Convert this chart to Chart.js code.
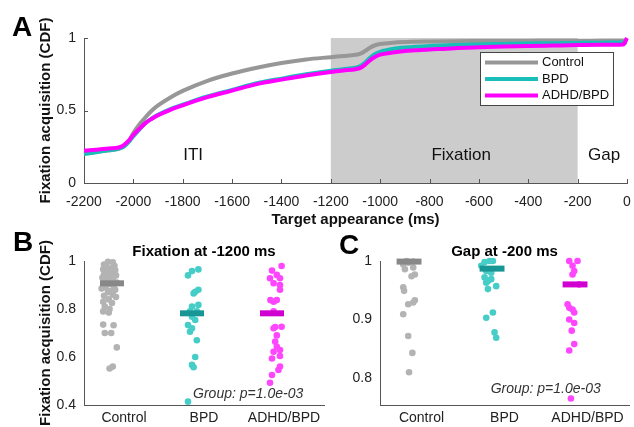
<!DOCTYPE html>
<html>
<head>
<meta charset="utf-8">
<script src="https://cdn.jsdelivr.net/npm/chart.js@4.4.0/dist/chart.umd.min.js"></script>
<style>
  html, body { margin: 0; padding: 0; background: #fff; overflow: hidden; }
  #fig { position: relative; width: 634px; height: 427px; overflow: hidden; font-family: "Liberation Sans", Arial, sans-serif; }
  .panel { position: absolute; }
  .letter { position: absolute; font-weight: bold; font-size: 28px; line-height: 28px; color: #000; }
</style>
</head>
<body>
<div id="fig">
  <div class="panel" style="left:0;top:0;width:634px;height:232px"><canvas id="cdf"></canvas></div>
  <div class="panel" style="left:0;top:230px;width:334px;height:197px"><canvas id="fixB"></canvas></div>
  <div class="panel" style="left:330px;top:230px;width:304px;height:197px"><canvas id="gapC"></canvas></div>
  <div class="letter" style="left:12px;top:13px">A</div>
  <div class="letter" style="left:13px;top:228px">B</div>
  <div class="letter" style="left:339px;top:231px">C</div>
</div>
<script>
const groupNames = ['Control', 'BPD', 'ADHD/BPD'];

// panel A: cumulative fixation acquisition vs time
const timeMs = [-2200, -2150, -2100, -2060, -2040, -2020, -2000, -1975, -1950, -1925, -1900, -1850, -1800,
  -1700, -1600, -1500, -1400, -1300, -1200, -1150, -1100, -1080, -1060, -1040, -1020, -1000, -950, -900,
  -800, -700, -600, -500, -400, -300, -200, -100, -15, 0];
const controlCdf = [0.205, 0.215, 0.225, 0.235, 0.25, 0.285, 0.345, 0.405, 0.455, 0.5, 0.535, 0.59, 0.635,
  0.705, 0.755, 0.795, 0.828, 0.852, 0.868, 0.876, 0.884, 0.892, 0.912, 0.935, 0.95, 0.958, 0.967, 0.972,
  0.976, 0.978, 0.979, 0.98, 0.98, 0.981, 0.981, 0.982, 0.982, 0.984];
const bpdCdf = [0.2, 0.212, 0.225, 0.237, 0.25, 0.28, 0.322, 0.37, 0.415, 0.445, 0.47, 0.51, 0.54,
  0.597, 0.642, 0.688, 0.72, 0.75, 0.775, 0.785, 0.795, 0.806, 0.832, 0.866, 0.89, 0.905, 0.924, 0.934,
  0.945, 0.951, 0.956, 0.959, 0.962, 0.964, 0.966, 0.968, 0.969, 0.971];
const adhdCdf = [0.222, 0.23, 0.238, 0.245, 0.26, 0.29, 0.332, 0.375, 0.415, 0.443, 0.467, 0.505, 0.536,
  0.592, 0.637, 0.682, 0.713, 0.742, 0.766, 0.776, 0.785, 0.794, 0.818, 0.848, 0.87, 0.885, 0.9, 0.91,
  0.92, 0.93, 0.936, 0.941, 0.945, 0.948, 0.951, 0.953, 0.955, 1.0];
const xTicksA = [-2200, -2000, -1800, -1600, -1400, -1200, -1000, -800, -600, -400, -200, 0];
const yTicksA = [0, 0.5, 1];
const phaseEdges = [-2200, -1200, -200, 0];
const phaseNames = ['ITI', 'Fixation', 'Gap'];
const phaseLabelX = [-1758, -672, -93];
const phaseLabelY = 0.19;

// panel B: fixation at -1200 ms
const fixControl = [0.997, 0.995, 0.985, 0.98, 0.975, 0.97, 0.965, 0.962, 0.955, 0.95, 0.945, 0.94, 0.935,
  0.93, 0.925, 0.92, 0.912, 0.91, 0.905, 0.895, 0.89, 0.885, 0.88, 0.875, 0.87, 0.86, 0.855, 0.85, 0.84,
  0.83, 0.825, 0.81, 0.80, 0.79, 0.785, 0.735, 0.732, 0.70, 0.70, 0.64, 0.56, 0.552];
const fixControlJit = [-0.20, -0.14, -0.25, -0.12, -0.22, -0.16, -0.26, -0.11, -0.20, -0.15, -0.25, -0.10, -0.19,
  -0.27, -0.14, -0.21, -0.25, -0.09, -0.18, -0.13, -0.23, -0.28, -0.11, -0.18, -0.20, -0.14, -0.25, -0.10, -0.19,
  -0.26, -0.15, -0.24, -0.18, -0.26, -0.19, -0.26, -0.13, -0.24, -0.16, -0.09, -0.14, -0.18];
const fixBpd = [0.965, 0.958, 0.94, 0.88, 0.872, 0.865, 0.817, 0.81, 0.79, 0.79, 0.768, 0.754, 0.733, 0.72,
  0.705, 0.67, 0.60, 0.567, 0.557, 0.414];
const fixBpdJit = [-0.07, -0.15, -0.20, -0.07, -0.11, -0.13, -0.07, -0.15, -0.175, -0.09, -0.15, -0.11, -0.2, -0.15,
  -0.175, -0.09, -0.11, -0.15, -0.13, -0.2];
const fixAdhd = [0.979, 0.96, 0.942, 0.928, 0.928, 0.907, 0.9, 0.88, 0.837, 0.837, 0.83, 0.79, 0.726, 0.725,
  0.72, 0.69, 0.664, 0.643, 0.629, 0.622, 0.604, 0.594, 0.56, 0.546, 0.525, 0.493];
const fixAdhdJit = [-0.03, -0.15, -0.09, -0.175, -0.05, -0.13, -0.05, -0.05, -0.17, -0.09, -0.13, -0.13, -0.03, -0.11,
  -0.13, -0.09, -0.11, -0.09, -0.05, -0.13, -0.05, -0.15, -0.05, -0.07, -0.15, -0.175];
const fixMeans = [0.907, 0.782, 0.782];
const yTicksB = [0.4, 0.6, 0.8, 1];

// panel C: gap at -200 ms
const gapControl = [1.0, 0.999, 0.997, 0.994, 0.989, 0.986, 0.977, 0.974, 0.955, 0.949, 0.933, 0.929, 0.926,
  0.909, 0.872, 0.843, 0.81];
const gapControlJit = [-0.18, -0.10, -0.16, -0.22, -0.10, -0.20, -0.08, -0.12, -0.22, -0.21, -0.08, -0.10, -0.16,
  -0.22, -0.16, -0.11, -0.15];
const gapBpd = [1.0, 1.0, 0.998, 0.992, 0.983, 0.98, 0.972, 0.969, 0.966, 0.963, 0.957, 0.952, 0.912, 0.903,
  0.878, 0.869];
const gapBpdJit = [-0.18, -0.14, -0.24, -0.28, -0.22, -0.16, -0.24, -0.16, -0.2, -0.22, -0.1, -0.2, -0.14, -0.22,
  -0.12, -0.1];
const gapAdhd = [1.0, 1.0, 0.992, 0.983, 0.977, 0.96, 0.926, 0.92, 0.917, 0.912, 0.9, 0.894, 0.881, 0.858,
  0.847, 0.765];
const gapAdhdJit = [-0.22, -0.12, -0.18, -0.16, -0.18, -0.1, -0.24, -0.22, -0.18, -0.16, -0.22, -0.16, -0.19, -0.16,
  -0.22, -0.2];
const gapMeans = [0.999, 0.987, 0.96];
const yTicksC = [0.8, 0.9, 1];
const groupTicks = [1, 2, 3];
const pText = 'Group: p=1.0e-03';

const FONT = '"Liberation Sans", Arial, sans-serif';
const AXIS = '#555';
const TICK = '#222';
const lineColors = ['#979797', '#19beb9', '#ff00ff'];
const dotColors = ['#b3b3b3', '#46cdc8', '#ff46ff'];
const barColors = ['#888888', '#179695', '#d000d0'];

Chart.defaults.font.family = FONT;
Chart.defaults.color = TICK;

const fmt = v => String(Math.round(v * 100) / 100);

// extra drawing: shaded phase, phase names, legend, notes, inward ticks
function makeDecor(cfg) {
  return {
    id: 'decor',
    beforeDraw(chart) {
      const {ctx, scales: {x, y}} = chart;
      ctx.save();
      if (cfg.shade) {
        const x0 = x.getPixelForValue(cfg.shade[0]), x1 = x.getPixelForValue(cfg.shade[1]);
        const y0 = y.getPixelForValue(y.max), y1 = y.getPixelForValue(y.min);
        ctx.fillStyle = '#cccccc';
        ctx.fillRect(x0, y0, x1 - x0, y1 - y0);
      }
      if (cfg.labels) {
        ctx.font = '17px ' + FONT;
        ctx.fillStyle = '#111';
        ctx.textAlign = 'center';
        ctx.textBaseline = 'middle';
        cfg.labels.forEach(l => ctx.fillText(l.text, x.getPixelForValue(l.x), y.getPixelForValue(l.y)));
      }
      ctx.restore();
    },
    afterDraw(chart) {
      const {ctx, chartArea: ca, scales: {x, y}} = chart;
      ctx.save();
      if (cfg.ticksIn) {
        ctx.strokeStyle = AXIS;
        ctx.lineWidth = 1;
        ctx.beginPath();
        x.ticks.forEach(t => {
          const px = Math.round(x.getPixelForValue(t.value)) + 0.5;
          ctx.moveTo(px, ca.bottom); ctx.lineTo(px, ca.bottom - 4);
        });
        y.ticks.forEach(t => {
          const py = Math.round(y.getPixelForValue(t.value)) + 0.5;
          ctx.moveTo(ca.left, py); ctx.lineTo(ca.left + 4, py);
        });
        ctx.stroke();
      }
      if (cfg.legend) {
        const w = 133, h = 53;
        const left = ca.right - 14 - w, top = ca.top + 14;
        ctx.fillStyle = '#fff';
        ctx.fillRect(left, top, w, h);
        ctx.strokeStyle = '#444';
        ctx.lineWidth = 1;
        ctx.strokeRect(left + 0.5, top + 0.5, w, h);
        ctx.font = '13px ' + FONT;
        ctx.textAlign = 'left';
        ctx.textBaseline = 'middle';
        chart.data.datasets.forEach((ds, i) => {
          const ry = top + 10.5 + i * 16.5;
          ctx.strokeStyle = ds.borderColor;
          ctx.lineWidth = 4;
          ctx.beginPath();
          ctx.moveTo(left + 5, ry); ctx.lineTo(left + 58, ry);
          ctx.stroke();
          ctx.fillStyle = '#111';
          ctx.fillText(ds.label, left + 62, ry);
        });
      }
      if (cfg.note) {
        ctx.font = 'italic 14px ' + FONT;
        ctx.fillStyle = '#333';
        ctx.textAlign = 'right';
        ctx.textBaseline = 'middle';
        ctx.fillText(cfg.note.text, x.getPixelForValue(cfg.note.x), y.getPixelForValue(cfg.note.y));
      }
      ctx.restore();
    }
  };
}

const tickList = arr => s => { s.ticks = arr.map(v => ({value: v})); };

// ---------- panel A ----------
new Chart(document.getElementById('cdf'), {
  type: 'line',
  data: {
    datasets: [controlCdf, bpdCdf, adhdCdf].map((vals, g) => ({
      label: groupNames[g],
      data: timeMs.map((t, i) => ({x: t, y: vals[i]})),
      borderColor: lineColors[g],
      borderWidth: 4,
      pointRadius: 0,
      cubicInterpolationMode: 'monotone',
      order: 3 - g,
      clip: false
    }))
  },
  options: {
    responsive: true,
    maintainAspectRatio: false,
    animation: false,
    layout: {padding: {top: 38, right: 7, left: 0, bottom: 0}},
    plugins: {legend: {display: false}, tooltip: {enabled: false}},
    scales: {
      x: {
        type: 'linear', min: -2200, max: 0,
        grid: {display: false, drawTicks: false}, border: {color: AXIS},
        ticks: {font: {size: 14}, padding: 11, maxRotation: 0, autoSkip: false, callback: v => String(v)},
        afterBuildTicks: tickList(xTicksA),
        afterFit: s => { s.height = 49; s.paddingLeft = 0; s.paddingRight = 0; },
        title: {display: true, text: 'Target appearance (ms)', color: '#111',
          font: {size: 15, weight: 'bold'}, padding: {top: 0, bottom: 3}}
      },
      y: {
        min: 0, max: 1,
        grid: {display: false, drawTicks: false}, border: {color: AXIS},
        ticks: {font: {size: 14}, padding: 8, callback: fmt},
        afterBuildTicks: tickList(yTicksA),
        afterFit: s => { s.width = 84; s.paddingTop = 0; s.paddingBottom = 0; },
        title: {display: true, text: 'Fixation acquisition (CDF)', color: '#111',
          font: {size: 15, weight: 'bold'}, padding: {top: 37, bottom: 0}}
      }
    }
  },
  plugins: [makeDecor({
    shade: [phaseEdges[1], phaseEdges[2]],
    labels: phaseNames.map((n, i) => ({text: n, x: phaseLabelX[i], y: phaseLabelY})),
    legend: true,
    ticksIn: true
  })]
});

// ---------- panels B and C ----------
function dotPanel(id, title, values, jitters, means, yMin, yMax, yTicks, axisWidth, yTitle, rightPad, note) {
  const dots = values.map((vals, g) => ({
    type: 'scatter',
    data: vals.map((v, i) => ({x: groupTicks[g] + jitters[g][i], y: v})),
    backgroundColor: dotColors[g],
    borderWidth: 0,
    pointRadius: 3.3,
    order: 2,
    clip: false
  }));
  const bars = means.map((m, g) => ({
    type: 'line',
    showLine: true,
    data: [{x: groupTicks[g] - 0.3, y: m}, {x: groupTicks[g], y: m}],
    borderColor: barColors[g],
    borderWidth: 6,
    borderCapStyle: 'butt',
    pointRadius: 0,
    order: 1,
    clip: false
  }));
  new Chart(document.getElementById(id), {
    type: 'scatter',
    data: {datasets: dots.concat(bars)},
    options: {
      responsive: true,
      maintainAspectRatio: false,
      animation: false,
      layout: {padding: {top: 0, right: rightPad, left: 0, bottom: 0}},
      plugins: {
        legend: {display: false},
        tooltip: {enabled: false},
        title: {display: true, text: title, fullSize: false, color: '#000',
          font: {size: 15, weight: 'bold'}, padding: {top: 13, bottom: 0}}
      },
      scales: {
        x: {
          type: 'linear', min: 0.5, max: 3.5,
          grid: {display: false, drawTicks: false}, border: {color: AXIS},
          ticks: {font: {size: 14}, padding: 5, maxRotation: 0, autoSkip: false,
            callback: v => groupNames[groupTicks.indexOf(v)] || ''},
          afterBuildTicks: tickList(groupTicks),
          afterFit: s => { s.height = 22; s.paddingLeft = 0; s.paddingRight = 0; }
        },
        y: {
          min: yMin, max: yMax,
          grid: {display: false, drawTicks: false}, border: {color: AXIS},
          ticks: {font: {size: 14}, padding: 8, callback: fmt},
          afterBuildTicks: tickList(yTicks),
          afterFit: s => { s.width = axisWidth; s.paddingTop = 0; s.paddingBottom = 0; },
          title: {display: !!yTitle, text: yTitle || '', color: '#111',
            font: {size: 15, weight: 'bold'}, padding: {top: 37, bottom: 0}}
        }
      }
    },
    plugins: [makeDecor({note: note})]
  });
}

dotPanel('fixB', 'Fixation at -1200 ms',
  [fixControl, fixBpd, fixAdhd], [fixControlJit, fixBpdJit, fixAdhdJit], fixMeans,
  0.4, 1, yTicksB, 84, 'Fixation acquisition (CDF)', 10,
  {text: pText, x: 3.24, y: 0.446});

dotPanel('gapC', 'Gap at -200 ms',
  [gapControl, gapBpd, gapAdhd], [gapControlJit, gapBpdJit, gapAdhdJit], gapMeans,
  0.754, 1, yTicksC, 50, '', 5,
  {text: pText, x: 3.16, y: 0.781});
</script>
</body>
</html>
